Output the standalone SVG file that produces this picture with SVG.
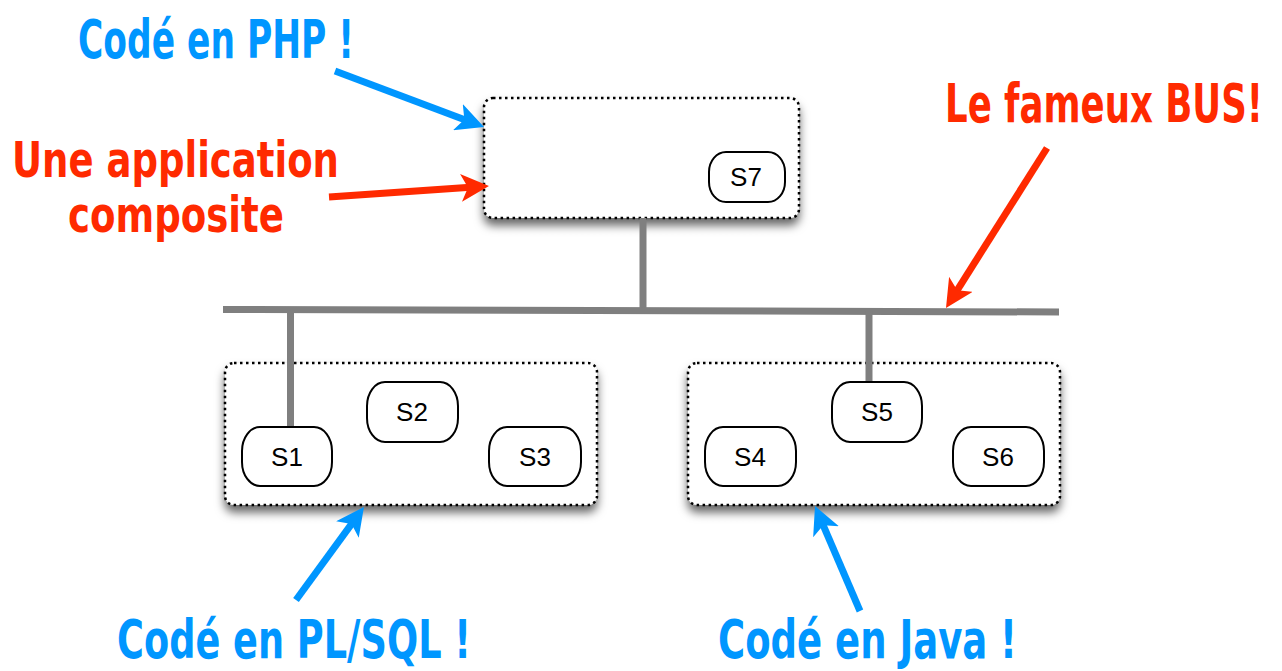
<svg xmlns="http://www.w3.org/2000/svg" width="1282" height="671" viewBox="0 0 1282 671">
<style>
.box{fill:#fff;stroke:#000;stroke-width:2.5;stroke-dasharray:2.5 3.5;filter:url(#sh)}
.svc{fill:#fff;stroke:#000;stroke-width:2}
.lbl{font-family:"Liberation Sans",Arial,sans-serif;font-size:26px;fill:#000;text-anchor:middle}
.wire{stroke:#7f7f7f;stroke-width:7;fill:none}
.note{font-family:"DejaVu Sans Condensed","DejaVu Sans",sans-serif;font-weight:bold;font-size:54px}
.two{font-size:50px}
.blue{fill:#0096ff}
.red{fill:#ff2a00}
.ab{stroke:#0096ff;stroke-width:7;fill:none;marker-end:url(#hb)}
.ar{stroke:#ff2a00;stroke-width:7;fill:none;marker-end:url(#hr)}
</style>
<defs>
<filter id="sh" x="-10%" y="-10%" width="120%" height="150%">
<feDropShadow dx="0" dy="7" stdDeviation="5" flood-color="#000" flood-opacity="0.6"/>
</filter>
<marker id="hb" markerUnits="userSpaceOnUse" viewBox="0 0 28 28" markerWidth="28" markerHeight="28" refX="13" refY="14" orient="auto">
<path d="M0,0 L28,14 L0,28 L7,14 z" fill="#0096ff"/>
</marker>
<marker id="hr" markerUnits="userSpaceOnUse" viewBox="0 0 28 28" markerWidth="28" markerHeight="28" refX="13" refY="14" orient="auto">
<path d="M0,0 L28,14 L0,28 L7,14 z" fill="#ff2a00"/>
</marker>
</defs>
<rect width="1282" height="671" fill="#fff"/>

<g id="app-box">
<rect class="box" x="484" y="98" width="315" height="120" rx="9"/>
</g>
<g id="plsql-box">
<rect class="box" x="225" y="363" width="372" height="142" rx="9"/>
</g>
<g id="java-box">
<rect class="box" x="688" y="363" width="372" height="142" rx="9"/>
</g>

<g id="connectors">
<line class="wire" x1="643" y1="218" x2="643" y2="310"/>
<line class="wire" x1="223" y1="309.5" x2="1059" y2="312"/>
<line class="wire" x1="290.5" y1="310" x2="290.5" y2="428"/>
<line class="wire" x1="869" y1="311" x2="869" y2="384"/>
</g>

<g id="S7"><rect class="svc" x="709" y="152" width="76" height="50" rx="17" ry="20"/><text class="lbl" x="746" y="186">S7</text></g>
<g id="S1"><rect class="svc" x="242" y="427" width="90" height="59" rx="18" ry="24"/><text class="lbl" x="287" y="466">S1</text></g>
<g id="S2"><rect class="svc" x="367" y="382" width="91" height="60" rx="18" ry="24"/><text class="lbl" x="412" y="421">S2</text></g>
<g id="S3"><rect class="svc" x="489" y="427" width="92" height="59" rx="18" ry="24"/><text class="lbl" x="535" y="466">S3</text></g>
<g id="S4"><rect class="svc" x="705" y="427" width="91" height="59" rx="18" ry="24"/><text class="lbl" x="750" y="466">S4</text></g>
<g id="S5"><rect class="svc" x="832" y="382" width="90" height="60" rx="18" ry="24"/><text class="lbl" x="877" y="421">S5</text></g>
<g id="S6"><rect class="svc" x="953" y="427" width="91" height="59" rx="18" ry="24"/><text class="lbl" x="998" y="466">S6</text></g>

<g id="annotations">
<line class="ab" x1="335" y1="71" x2="470" y2="121.7"/>
<line class="ar" x1="329" y1="197" x2="474" y2="187"/>
<line class="ar" x1="1047" y1="148" x2="954" y2="295.3"/>
<line class="ab" x1="296" y1="600" x2="355.1" y2="519.1"/>
<line class="ab" x1="860" y1="611" x2="820.9" y2="519.8"/>
<text class="note blue" x="78" y="58" textLength="276" lengthAdjust="spacingAndGlyphs">Codé en PHP !</text>
<text class="note two red" x="12" y="177" textLength="327" lengthAdjust="spacingAndGlyphs">Une application</text>
<text class="note two red" x="68" y="232" textLength="216" lengthAdjust="spacingAndGlyphs">composite</text>
<text class="note red" transform="translate(945,122) scale(1,1.42)" x="0" y="0" style="font-size:38px" textLength="318" lengthAdjust="spacingAndGlyphs">Le fameux BUS!</text>
<text class="note blue" x="117" y="658" textLength="354" lengthAdjust="spacingAndGlyphs">Codé en PL/SQL !</text>
<text class="note blue" x="718" y="658" textLength="299" lengthAdjust="spacingAndGlyphs">Codé en Java !</text>
</g>
</svg>
